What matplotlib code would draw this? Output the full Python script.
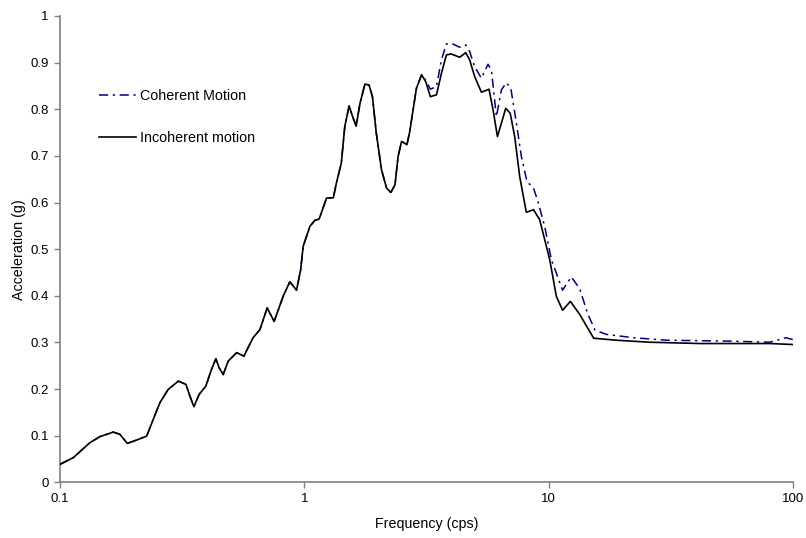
import matplotlib
matplotlib.use("Agg")
import matplotlib.pyplot as plt

plt.rcParams['font.family'] = ['Liberation Sans', 'DejaVu Sans']

# Shared low-frequency part (both curves coincide up to ~3 cps)
freq_common = [0.1, 0.1134, 0.1326, 0.1458, 0.1652, 0.1759, 0.1885, 0.2059, 0.2263, 0.2408,
               0.2564, 0.277, 0.305, 0.3277, 0.340, 0.3532, 0.371, 0.395, 0.4168, 0.4345,
               0.448, 0.4655, 0.488, 0.5286, 0.566, 0.588, 0.617, 0.658, 0.7046, 0.7525,
               0.819, 0.8723, 0.929, 0.966, 0.989, 1.054, 1.104, 1.150, 1.233, 1.314,
               1.353, 1.417, 1.464, 1.525, 1.577, 1.63, 1.69, 1.77, 1.84, 1.90,
               1.97, 2.07, 2.17, 2.26, 2.35, 2.42, 2.50, 2.63, 2.70, 2.876,
               3.02]
acc_common = [0.0385, 0.053, 0.085, 0.098, 0.1077, 0.1028, 0.0835, 0.0906, 0.099, 0.135,
              0.1707, 0.199, 0.217, 0.21, 0.185, 0.162, 0.1884, 0.206, 0.242, 0.265,
              0.2456, 0.231, 0.26, 0.278, 0.2705, 0.2884, 0.31, 0.3276, 0.374, 0.345,
              0.399, 0.430, 0.412, 0.456, 0.506, 0.549, 0.5617, 0.5646, 0.6096, 0.61,
              0.642, 0.6846, 0.763, 0.807, 0.784, 0.764, 0.813, 0.854, 0.852, 0.827,
              0.749, 0.670, 0.631, 0.6216, 0.638, 0.699, 0.731, 0.724, 0.752, 0.845,
              0.874]

# Incoherent motion (solid black), above 3 cps
freq_incoh_hi = [3.14, 3.28, 3.474, 3.64, 3.815, 3.99, 4.325, 4.577, 4.75, 4.98,
                 5.305, 5.70, 5.92, 6.17, 6.405, 6.67, 6.96, 7.26, 7.61, 8.1,
                 8.67, 9.19, 10.1, 10.75, 11.4, 12.27, 13.4, 15.28, 18.9, 25.9,
                 41.7, 80.3, 100]
acc_incoh_hi = [0.859, 0.827, 0.831, 0.877, 0.9165, 0.9186, 0.9115, 0.9214, 0.9058, 0.87,
                0.8366, 0.843, 0.799, 0.7415, 0.770, 0.802, 0.7916, 0.7415, 0.656, 0.579,
                0.5846, 0.563, 0.4775, 0.399, 0.369, 0.388, 0.36, 0.309, 0.3047, 0.3004,
                0.2976, 0.2976, 0.2955]

# Coherent motion (dash-dot navy), above 3 cps
freq_coh_hi = [3.14, 3.28, 3.474, 3.64, 3.815, 3.99, 4.325, 4.577, 4.75, 4.98,
               5.305, 5.646, 5.83, 6.11, 6.405, 6.71, 7.0, 7.38, 7.73, 8.15,
               8.67, 9.04, 9.63, 10.26, 11.4, 12.38, 13.4, 14.48, 15.5, 17.3,
               22.3, 30.5, 56.8, 80.3, 93.5, 100]
acc_coh_hi = [0.862, 0.843, 0.8487, 0.906, 0.94, 0.9415, 0.933, 0.938, 0.9236, 0.8915,
              0.8665, 0.8965, 0.884, 0.784, 0.8415, 0.857, 0.845, 0.77, 0.699, 0.645,
              0.631, 0.602, 0.549, 0.4775, 0.412, 0.4405, 0.415, 0.36, 0.326, 0.317,
              0.31, 0.3047, 0.3026, 0.3004, 0.31, 0.306]

x_ticks = [0.1, 1, 10, 100]
x_ticklabels = ['0.1', '1', '10', '100']
y_ticks = [0, 0.1, 0.2, 0.3, 0.4, 0.5, 0.6, 0.7, 0.8, 0.9, 1]
y_ticklabels = ['0', '0.1', '0.2', '0.3', '0.4', '0.5', '0.6', '0.7', '0.8', '0.9', '1']

freq_incoh = freq_common + freq_incoh_hi
acc_incoh = acc_common + acc_incoh_hi
freq_coh = freq_common + freq_coh_hi
acc_coh = acc_common + acc_coh_hi

fig = plt.figure(figsize=(8.06, 5.38), dpi=100)
ax = fig.add_axes([60/806, (538-482.3)/538, (793-60)/806, (482.3-16)/538])

ax.plot(freq_coh, acc_coh, color='#000080', lw=1.1,
        linestyle=(0, (6, 3, 1.5, 3)), label='Coherent Motion', zorder=2,
        solid_joinstyle='round', dash_joinstyle='round')
ax.plot(freq_incoh, acc_incoh, color='black', lw=1.2,
        linestyle='-', label='Incoherent motion', zorder=3,
        solid_joinstyle='round')

ax.set_xscale('log')
ax.set_xlim(0.1, 100)
ax.set_ylim(0, 1)
ax.set_xticks(x_ticks)
ax.set_xticklabels(x_ticklabels)
ax.xaxis.set_minor_locator(matplotlib.ticker.NullLocator())
ax.set_yticks(y_ticks)
ax.set_yticklabels(y_ticklabels)

for s in ['top', 'right']:
    ax.spines[s].set_visible(False)
for s in ['left', 'bottom']:
    ax.spines[s].set_color('#808080')
    ax.spines[s].set_linewidth(1.2)
ax.tick_params(axis='both', direction='out', length=4, width=1, color='#808080',
               labelsize=9.5, labelcolor='black', pad=4)

ax.set_xlabel('Frequency (cps)', fontsize=10.3, labelpad=8)
ax.set_ylabel('Acceleration (g)', fontsize=10.3, labelpad=3)

leg = ax.legend(loc='upper left', bbox_to_anchor=(0.035, 0.87), frameon=False,
                fontsize=10.3, handlelength=2.6, handletextpad=0.3, labelspacing=1.9)

fig.savefig('out.png', dpi=100)
